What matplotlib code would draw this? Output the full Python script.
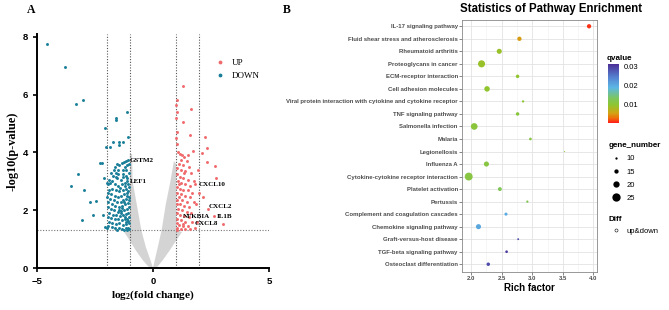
import numpy as np
import matplotlib
matplotlib.use("Agg")
import matplotlib.pyplot as plt
from matplotlib.colors import LinearSegmentedColormap, Normalize
from matplotlib.lines import Line2D

plt.rcParams["mathtext.fontset"] = "custom"
plt.rcParams["mathtext.rm"] = "Liberation Serif:bold"
plt.rcParams["mathtext.it"] = "Liberation Serif:bold"

# ---------------- Panel A data (volcano) ----------------
# significant down-regulated genes (log2FC, -log10 p)
down_x = [-4.56, -3.79, -3.32, -3.0, -3.25, -3.55, -2.96, -3.07, -2.72, -2.46, -2.57,
          -2.28, -2.2, -2.06, -2.1, -2.0, -2.0, -2.17, -2.07, -2.0, -1.6, -1.58, -1.11,
          -1.08, -1.28, -1.47, -1.47, -1.71, -1.85, -2.03,
          -1.08, -1.15, -1.25, -1.35, -1.45, -1.55, -1.65, -1.7, -1.6, -1.5, -1.3, -1.2,
          -1.1, -1.05, -1.18, -1.28, -1.4, -1.55, -1.75, -1.85, -1.95, -1.9, -1.65, -1.5,
          -1.35, -1.22, -1.1, -1.05, -1.15, -1.3, -1.45, -1.6, -1.75, -1.88, -1.95, -1.8,
          -1.65, -1.5, -1.38, -1.25, -1.12, -1.05, -1.15, -1.28, -1.4, -1.55, -1.7, -1.85,
          -1.92, -1.78, -1.62, -1.48, -1.35, -1.2, -1.08, -1.03, -1.12, -1.25, -1.38, -1.52,
          -1.68, -1.82, -1.95, -1.88, -1.72, -1.58, -1.42, -1.3, -1.18, -1.06, -1.02, -1.1,
          -1.22, -1.35, -1.5, -1.65, -1.8, -1.95, -1.9, -1.75, -1.6, -1.45, -1.3, -1.15,
          -1.04, -1.06, -1.18, -1.32, -1.48, -1.62, -1.78, -1.92, -1.55, -1.25, -1.12, -1.02,
          -1.08, -1.2, -1.42, -1.1, -1.3, -1.18, -1.6, -1.45, -1.15, -1.33, -1.08, -1.22,
          -1.4, -1.02, -1.13, -1.25, -1.06, -1.5, -1.72, -1.8, -1.04]
down_y = [7.76, 6.96, 5.69, 5.81, 3.26, 2.85, 2.70, 1.67, 2.28, 2.33, 1.83,
          3.64, 3.64, 4.83, 3.10, 2.95, 2.47, 1.83, 1.43, 1.4, 5.18, 5.14, 5.41,
          4.52, 4.37, 4.35, 4.26, 4.36, 4.20, 4.20,
          3.75, 3.72, 3.68, 3.62, 3.55, 3.6, 3.5, 3.4, 3.3, 3.25, 3.4, 3.5,
          3.55, 3.3, 3.2, 3.15, 3.05, 3.1, 3.0, 2.95, 2.9, 3.05, 2.9, 2.85,
          2.9, 2.95, 3.0, 2.8, 2.75, 2.7, 2.65, 2.7, 2.75, 2.7, 2.6, 2.55,
          2.5, 2.45, 2.5, 2.55, 2.6, 2.45, 2.4, 2.35, 2.3, 2.3, 2.35, 2.4,
          2.3, 2.2, 2.15, 2.12, 2.15, 2.2, 2.25, 2.1, 2.05, 2.0, 1.98, 1.95,
          2.0, 2.05, 2.1, 1.9, 1.85, 1.82, 1.8, 1.85, 1.88, 1.9, 1.75, 1.7,
          1.68, 1.65, 1.7, 1.68, 1.72, 1.75, 1.6, 1.55, 1.52, 1.55, 1.5, 1.52,
          1.55, 1.4, 1.38, 1.36, 1.4, 1.38, 1.42, 1.45, 1.32, 1.33, 1.32, 1.35,
          2.65, 2.85, 2.78, 3.1, 3.25, 3.4, 3.15, 2.02, 1.6, 2.08, 1.62, 1.78,
          1.9, 2.35, 2.5, 2.28, 2.92, 3.4, 3.2, 3.3, 3.6]

# significant up-regulated genes
up_x = [1.02, 1.0, 1.02, 1.0, 1.03, 1.0, 1.05, 1.08, 1.15, 1.25, 1.35, 1.2, 1.45, 1.1,
        1.3, 1.55, 1.05, 1.2, 1.4, 1.65, 1.02, 1.15, 1.3, 1.5, 1.75, 1.08, 1.22, 1.4,
        1.6, 1.03, 1.15, 1.3, 1.5, 1.7, 1.02, 1.2, 1.38, 1.6, 1.1, 1.05, 1.25, 1.45,
        1.75, 1.02, 1.15, 1.35, 1.55, 1.08, 1.25, 1.45, 1.65, 1.02, 1.15, 1.35, 1.55,
        1.05, 1.2, 1.4, 1.7, 1.02, 1.12, 1.3, 1.5, 1.05, 1.2, 1.4, 1.6, 1.8, 1.02, 1.28,
        1.1, 1.32, 1.5, 1.6, 1.28, 1.63, 1.28, 1.71, 1.85, 1.9,
        2.25, 2.31, 2.11, 2.31, 2.67, 2.72, 1.95, 2.17, 1.81, 2.36, 2.64, 3.03, 2.0]
up_y = [5.8, 5.65, 5.4, 5.2, 4.7, 4.5, 4.3, 4.0, 3.95, 3.9, 3.85, 3.75, 3.7, 3.6,
        3.55, 3.5, 3.45, 3.4, 3.35, 3.3, 3.25, 3.15, 3.1, 3.05, 3.0, 3.0, 2.95, 2.9,
        2.85, 2.8, 2.75, 2.7, 2.7, 2.6, 2.6, 2.55, 2.5, 2.45, 2.45, 2.35, 2.35, 2.3,
        2.3, 2.2, 2.2, 2.15, 2.1, 2.05, 2.0, 1.95, 1.9, 1.9, 1.85, 1.8, 1.75,
        1.7, 1.65, 1.6, 1.6, 1.55, 1.5, 1.45, 1.45, 1.38, 1.35, 1.35, 1.35, 1.38, 1.32, 1.52,
        2.9, 3.3, 3.9, 4.6, 5.06, 5.49, 6.3, 4.06, 2.2, 1.6,
        4.52, 4.14, 3.99, 3.68, 3.53, 3.12, 3.39, 2.45, 2.9, 2.03, 1.81, 1.53, 2.6]

# outline of the dense cloud of non-significant genes
ns_right_x = [0.0, 0.2, 0.43, 0.73, 1.0, 1.25, 1.0, 1.0, 0.9, 0.75, 0.55, 0.37, 0.2, 0.07, 0.0]
ns_right_y = [0.0, 0.05, 0.28, 0.62, 0.95, 1.25, 1.3, 3.6, 3.7, 3.0, 2.2, 1.3, 0.7, 0.25, 0.0]
ns_left_x = [0.0, -0.2, -0.45, -0.75, -1.0, -1.25, -1.0, -1.0, -0.9, -0.88, -0.7, -0.5, -0.3, -0.1, 0.0]
ns_left_y = [0.0, 0.05, 0.28, 0.62, 0.95, 1.25, 1.3, 3.95, 3.95, 3.0, 2.2, 1.3, 0.7, 0.25, 0.0]

gene_labels = ["GSTM2", "LEF1", "CXCL10", "CXCL2", "NFKBIA", "IL1B", "CXCL8"]
gene_lx = [-0.99, -0.99, 1.98, 2.4, 1.3, 2.76, 1.8]
gene_ly = [3.72, 2.98, 2.9, 2.12, 1.8, 1.8, 1.55]

# ---------------- Panel B data (KEGG enrichment) ----------------
pathways = ["IL-17 signaling pathway", "Fluid shear stress and atherosclerosis",
            "Rheumatoid arthritis", "Proteoglycans in cancer", "ECM-receptor interaction",
            "Cell adhesion molecules",
            "Viral protein interaction with cytokine and cytokine receptor",
            "TNF signaling pathway", "Salmonella infection", "Malaria", "Legionellosis",
            "Influenza A", "Cytokine-cytokine receptor interaction", "Platelet activation",
            "Pertussis", "Complement and coagulation cascades", "Chemokine signaling pathway",
            "Graft-versus-host disease", "TGF-beta signaling pathway",
            "Osteoclast differentiation"]
rich_factor = [3.93, 2.79, 2.46, 2.17, 2.76, 2.26, 2.85, 2.76, 2.05, 2.97, 3.53,
               2.25, 1.96, 2.47, 2.92, 2.57, 2.12, 2.77, 2.58, 2.28]
qvalue = [0.0008, 0.005, 0.009, 0.009, 0.0095, 0.0095, 0.010, 0.0105, 0.0105, 0.011,
          0.011, 0.011, 0.011, 0.0125, 0.012, 0.020, 0.0205, 0.029, 0.030, 0.029]
gene_number = [15, 15, 17, 22, 13, 18, 10, 13, 21, 11, 7, 17, 24, 14, 10, 12, 17, 9, 11, 13]

size_breaks = [10, 15, 20, 25]
q_ticks = [0.01, 0.02, 0.03]


def dot_size(g):
    d_px = 1.5 + (np.asarray(g) - 8) * 0.4
    return (d_px * 0.72) ** 2


fig = plt.figure(figsize=(6.69, 3.10), dpi=100)

# ---------------- Panel A ----------------
W, H = 669.0, 310.0
axA = fig.add_axes([37 / W, 1 - 268 / H, 232 / W, 234 / H])
axA.fill(ns_left_x, ns_left_y, color="#d4d4d4", lw=0, zorder=1)
axA.fill(ns_right_x, ns_right_y, color="#d4d4d4", lw=0, zorder=1)
for xv in [-2, -1, 1, 2]:
    axA.axvline(xv, color="#555555", ls=(0, (1, 1.5)), lw=0.8, zorder=2)
axA.axhline(1.3, color="#777777", ls=(0, (1, 1.5)), lw=0.8, zorder=2)
axA.scatter(up_x, up_y, s=4.5, color="#f06a6d", lw=0, zorder=3, label="UP")
axA.scatter(down_x, down_y, s=4.5, color="#1a7e98", lw=0, zorder=3, label="DOWN")
for lab, lx, ly in zip(gene_labels, gene_lx, gene_ly):
    axA.text(lx, ly, lab, fontsize=5, family="Liberation Serif", weight="bold",
             va="center", ha="left", zorder=4)
axA.set_xlim(-5, 5)
axA.set_ylim(0, 8.1)
axA.set_xticks([-5, 0, 5])
axA.set_yticks([0, 2, 4, 6, 8])
for s in ["top", "right"]:
    axA.spines[s].set_visible(False)
for s in ["left", "bottom"]:
    axA.spines[s].set_linewidth(1.4)
axA.tick_params(width=1.2, length=3, labelsize=6.8)
for t in axA.get_xticklabels() + axA.get_yticklabels():
    t.set_fontweight("bold")
    t.set_family("Liberation Sans")
axA.set_xlabel(r"log$_\mathrm{2}$(fold change)", fontsize=8.2, family="Liberation Serif",
               weight="bold", labelpad=2)
axA.set_ylabel("-log10(p-value)", fontsize=8.8, family="Liberation Serif",
               weight="bold", labelpad=3)
axA.legend(loc="upper right", bbox_to_anchor=(0.995, 0.93), frameon=False,
           prop={"family": "Liberation Serif", "size": 6.5}, handletextpad=0.3,
           markerscale=1.3, labelspacing=0.5)
fig.text(27 / W, 1 - 10 / H, "A", fontsize=8.5, family="Liberation Serif",
         weight="bold", va="center")

# ---------------- Panel B ----------------
cmap = LinearSegmentedColormap.from_list(
    "q", [(0.0, "#ff1a1a"), (0.08, "#f06d0a"), (0.17, "#d2a514"), (0.3, "#90c52e"),
          (0.42, "#7cc660"), (0.6, "#5cb7e4"), (0.78, "#5580d0"), (1.0, "#4b2e96")])
norm = Normalize(0, 0.0316)

axB = fig.add_axes([462 / W, 1 - 272 / H, 135 / W, 252 / H])
ypos = np.arange(len(pathways))[::-1]
axB.scatter(rich_factor, ypos, s=dot_size(gene_number), c=qvalue, cmap=cmap, norm=norm,
            lw=0, zorder=3)
axB.set_xlim(1.85, 4.06)
axB.set_ylim(-0.62, 19.5)
axB.set_xticks([2.0, 2.5, 3.0, 3.5, 4.0])
axB.set_xticks([2.25, 2.75, 3.25, 3.75], minor=True)
axB.set_yticks(ypos)
axB.set_yticklabels(pathways)
axB.grid(True, which="major", color="#e3e3e3", lw=0.6, zorder=0)
axB.grid(True, which="minor", axis="x", color="#f0f0f0", lw=0.4, zorder=0)
axB.set_axisbelow(True)
for s in axB.spines.values():
    s.set_color("#888888")
    s.set_linewidth(0.6)
axB.tick_params(axis="both", which="major", length=2, width=0.5, color="#555555",
                labelcolor="#4d4d4d", labelsize=4.3, pad=1)
axB.tick_params(which="minor", length=0)
for t in axB.get_yticklabels() + axB.get_xticklabels():
    t.set_family("Liberation Sans")
    t.set_fontweight("bold")
axB.set_xlabel("Rich factor", fontsize=7, family="Liberation Sans", weight="bold",
               labelpad=1)
fig.text(551 / W, 1 - 9 / H, "Statistics of Pathway Enrichment", fontsize=8.3,
         family="Liberation Sans", weight="bold", ha="center", va="center")
fig.text(283 / W, 1 - 10 / H, "B", fontsize=8.5, family="Liberation Serif",
         weight="bold", va="center")

# colour bar for qvalue
cax = fig.add_axes([608 / W, 1 - 123 / H, 11 / W, 59 / H])
cb = fig.colorbar(plt.cm.ScalarMappable(norm=norm, cmap=cmap), cax=cax, ticks=q_ticks)
cb.outline.set_visible(False)
cax.tick_params(length=1.5, width=0.4, color="white", labelsize=5.5, pad=2)
for t in cax.get_yticklabels():
    t.set_family("Liberation Sans")
fig.text(607 / W, 1 - 58 / H, "qvalue", fontsize=5.8, family="Liberation Sans",
         weight="bold", va="center")

# size legend
size_handles = [Line2D([], [], ls="", marker="o", color="black",
                       markersize=np.sqrt(dot_size(g)), markeredgewidth=0)
                for g in size_breaks]
fig.legend(size_handles, [str(g) for g in size_breaks], loc="upper left",
           bbox_to_anchor=(603 / W, 1 - 137 / H), frameon=False,
           title="gene_number", alignment="left", handletextpad=0.4,
           labelspacing=0.75, borderpad=0.2,
           prop={"family": "Liberation Sans", "size": 5.5},
           title_fontproperties={"family": "Liberation Sans", "size": 5.8,
                                 "weight": "bold"})
diff_handle = [Line2D([], [], ls="", marker="o", mfc="none", mec="black",
                      markersize=2.2, markeredgewidth=0.4)]
fig.legend(diff_handle, ["up&down"], loc="upper left",
           bbox_to_anchor=(603 / W, 1 - 211 / H), frameon=False,
           title="Diff", alignment="left", handletextpad=0.4, borderpad=0.2,
           prop={"family": "Liberation Sans", "size": 5.5},
           title_fontproperties={"family": "Liberation Sans", "size": 5.8,
                                 "weight": "bold"})

fig.savefig("out.png", dpi=100)
